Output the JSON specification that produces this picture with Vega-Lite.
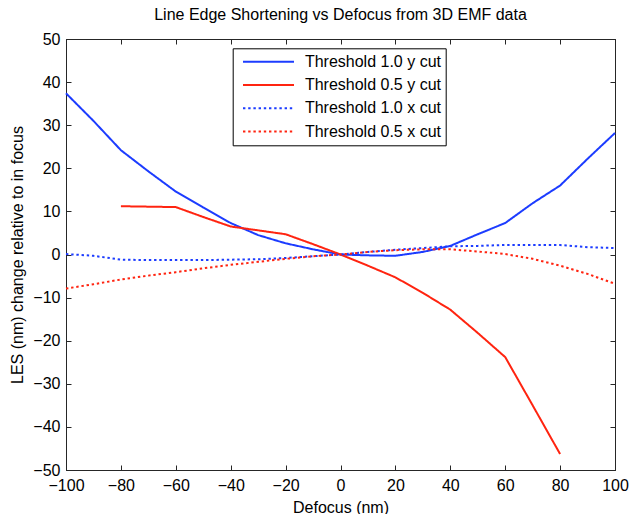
{
  "$schema": "https://vega.github.io/schema/vega-lite/v6.json",
  "width": 549,
  "height": 431,
  "autosize": {"type": "none"},
  "padding": {"left": 66, "top": 39, "right": 14, "bottom": 44},
  "background": "white",
  "config": {
    "font": "Liberation Sans",
    "view": {"stroke": "#262626", "strokeWidth": 1},
    "axis": {
      "grid": false,
      "domainColor": "#262626",
      "domainWidth": 1,
      "tickColor": "#262626",
      "tickSize": -5,
      "labelFontSize": 16,
      "labelColor": "black",
      "titleFontSize": 16,
      "titleFontWeight": "normal",
      "titleColor": "black"
    },
    "title": {"fontSize": 16, "fontWeight": "normal", "color": "black", "font": "Liberation Sans"}
  },
  "title": {"text": "Line Edge Shortening vs Defocus from 3D EMF data", "offset": 8},
  "datasets": {
    "lines": [
      {"x": -100, "y": 37.4, "s": "Threshold 1.0 y cut"},
      {"x": -90, "y": 31.0, "s": "Threshold 1.0 y cut"},
      {"x": -80, "y": 24.2, "s": "Threshold 1.0 y cut"},
      {"x": -70, "y": 19.3, "s": "Threshold 1.0 y cut"},
      {"x": -60, "y": 14.6, "s": "Threshold 1.0 y cut"},
      {"x": -50, "y": 10.9, "s": "Threshold 1.0 y cut"},
      {"x": -40, "y": 7.3, "s": "Threshold 1.0 y cut"},
      {"x": -30, "y": 4.5, "s": "Threshold 1.0 y cut"},
      {"x": -20, "y": 2.6, "s": "Threshold 1.0 y cut"},
      {"x": -10, "y": 1.2, "s": "Threshold 1.0 y cut"},
      {"x": 0, "y": 0, "s": "Threshold 1.0 y cut"},
      {"x": 10, "y": -0.2, "s": "Threshold 1.0 y cut"},
      {"x": 20, "y": -0.3, "s": "Threshold 1.0 y cut"},
      {"x": 30, "y": 0.6, "s": "Threshold 1.0 y cut"},
      {"x": 40, "y": 2.0, "s": "Threshold 1.0 y cut"},
      {"x": 50, "y": 4.7, "s": "Threshold 1.0 y cut"},
      {"x": 60, "y": 7.3, "s": "Threshold 1.0 y cut"},
      {"x": 70, "y": 11.9, "s": "Threshold 1.0 y cut"},
      {"x": 80, "y": 16.0, "s": "Threshold 1.0 y cut"},
      {"x": 90, "y": 22.2, "s": "Threshold 1.0 y cut"},
      {"x": 100, "y": 28.2, "s": "Threshold 1.0 y cut"},
      {"x": -80, "y": 11.2, "s": "Threshold 0.5 y cut"},
      {"x": -70, "y": 11.1, "s": "Threshold 0.5 y cut"},
      {"x": -60, "y": 11.0, "s": "Threshold 0.5 y cut"},
      {"x": -50, "y": 8.7, "s": "Threshold 0.5 y cut"},
      {"x": -40, "y": 6.5, "s": "Threshold 0.5 y cut"},
      {"x": -30, "y": 5.6, "s": "Threshold 0.5 y cut"},
      {"x": -20, "y": 4.7, "s": "Threshold 0.5 y cut"},
      {"x": -10, "y": 2.4, "s": "Threshold 0.5 y cut"},
      {"x": 0, "y": 0, "s": "Threshold 0.5 y cut"},
      {"x": 10, "y": -2.6, "s": "Threshold 0.5 y cut"},
      {"x": 20, "y": -5.3, "s": "Threshold 0.5 y cut"},
      {"x": 30, "y": -8.9, "s": "Threshold 0.5 y cut"},
      {"x": 40, "y": -12.8, "s": "Threshold 0.5 y cut"},
      {"x": 50, "y": -18.2, "s": "Threshold 0.5 y cut"},
      {"x": 60, "y": -23.8, "s": "Threshold 0.5 y cut"},
      {"x": 70, "y": -35.0, "s": "Threshold 0.5 y cut"},
      {"x": 80, "y": -46.3, "s": "Threshold 0.5 y cut"},
      {"x": -100, "y": 0.1, "s": "Threshold 1.0 x cut"},
      {"x": -90, "y": -0.3, "s": "Threshold 1.0 x cut"},
      {"x": -80, "y": -1.2, "s": "Threshold 1.0 x cut"},
      {"x": -70, "y": -1.3, "s": "Threshold 1.0 x cut"},
      {"x": -60, "y": -1.3, "s": "Threshold 1.0 x cut"},
      {"x": -50, "y": -1.3, "s": "Threshold 1.0 x cut"},
      {"x": -40, "y": -1.2, "s": "Threshold 1.0 x cut"},
      {"x": -30, "y": -1.1, "s": "Threshold 1.0 x cut"},
      {"x": -20, "y": -0.8, "s": "Threshold 1.0 x cut"},
      {"x": -10, "y": -0.4, "s": "Threshold 1.0 x cut"},
      {"x": 0, "y": 0, "s": "Threshold 1.0 x cut"},
      {"x": 10, "y": 0.6, "s": "Threshold 1.0 x cut"},
      {"x": 20, "y": 1.1, "s": "Threshold 1.0 x cut"},
      {"x": 30, "y": 1.5, "s": "Threshold 1.0 x cut"},
      {"x": 40, "y": 1.9, "s": "Threshold 1.0 x cut"},
      {"x": 50, "y": 2.0, "s": "Threshold 1.0 x cut"},
      {"x": 60, "y": 2.2, "s": "Threshold 1.0 x cut"},
      {"x": 70, "y": 2.2, "s": "Threshold 1.0 x cut"},
      {"x": 80, "y": 2.2, "s": "Threshold 1.0 x cut"},
      {"x": 90, "y": 1.7, "s": "Threshold 1.0 x cut"},
      {"x": 100, "y": 1.5, "s": "Threshold 1.0 x cut"},
      {"x": -100, "y": -7.9, "s": "Threshold 0.5 x cut"},
      {"x": -90, "y": -6.9, "s": "Threshold 0.5 x cut"},
      {"x": -80, "y": -5.8, "s": "Threshold 0.5 x cut"},
      {"x": -70, "y": -4.9, "s": "Threshold 0.5 x cut"},
      {"x": -60, "y": -4.1, "s": "Threshold 0.5 x cut"},
      {"x": -50, "y": -3.2, "s": "Threshold 0.5 x cut"},
      {"x": -40, "y": -2.4, "s": "Threshold 0.5 x cut"},
      {"x": -30, "y": -1.7, "s": "Threshold 0.5 x cut"},
      {"x": -20, "y": -1.0, "s": "Threshold 0.5 x cut"},
      {"x": -10, "y": -0.4, "s": "Threshold 0.5 x cut"},
      {"x": 0, "y": 0, "s": "Threshold 0.5 x cut"},
      {"x": 10, "y": 0.6, "s": "Threshold 0.5 x cut"},
      {"x": 20, "y": 1.0, "s": "Threshold 0.5 x cut"},
      {"x": 30, "y": 1.2, "s": "Threshold 0.5 x cut"},
      {"x": 40, "y": 1.2, "s": "Threshold 0.5 x cut"},
      {"x": 50, "y": 0.7, "s": "Threshold 0.5 x cut"},
      {"x": 60, "y": 0.1, "s": "Threshold 0.5 x cut"},
      {"x": 70, "y": -1.0, "s": "Threshold 0.5 x cut"},
      {"x": 80, "y": -2.6, "s": "Threshold 0.5 x cut"},
      {"x": 90, "y": -4.5, "s": "Threshold 0.5 x cut"},
      {"x": 100, "y": -6.8, "s": "Threshold 0.5 x cut"}
    ]
  },
  "data": {"name": "lines"},
  "resolve": {"scale": {"x": "independent", "y": "independent"}, "axis": {"x": "independent", "y": "independent"}},
  "layer": [
    {
      "mark": {"type": "line", "strokeWidth": 2},
      "encoding": {
        "x": {
          "field": "x", "type": "quantitative",
          "scale": {"domain": [-100, 100], "nice": false},
          "axis": {"orient": "bottom", "values": [-100, -80, -60, -40, -20, 0, 20, 40, 60, 80, 100], "labelPadding": 12, "title": "Defocus (nm)", "titlePadding": 6, "labelFlush": false}
        },
        "y": {
          "field": "y", "type": "quantitative",
          "scale": {"domain": [-50, 50], "nice": false},
          "axis": {"orient": "left", "values": [-50, -40, -30, -20, -10, 0, 10, 20, 30, 40, 50], "labelPadding": 11, "title": "LES (nm) change relative to in focus", "titlePadding": 7, "labelFlush": false}
        },
        "color": {
          "field": "s", "type": "nominal",
          "scale": {
            "domain": ["Threshold 1.0 y cut", "Threshold 0.5 y cut", "Threshold 1.0 x cut", "Threshold 0.5 x cut"],
            "range": ["#1c3cff", "#ff2410", "#1c3cff", "#ff2410"]
          },
          "legend": {
            "title": null,
            "orient": "none",
            "legendX": 166.7,
            "legendY": 9.3,
            "symbolType": "stroke",
            "symbolSize": 2601,
            "symbolStrokeWidth": 2,
            "clipHeight": 18,
            "rowPadding": 5.3,
            "padding": 4.4,
            "symbolOffset": 4.9,
            "labelOffset": 9.9,
            "labelFontSize": 16,
            "labelColor": "black",
            "labelLimit": 300,
            "strokeColor": "black",
            "fillColor": "white"
          }
        },
        "strokeDash": {
          "field": "s", "type": "nominal",
          "scale": {
            "domain": ["Threshold 1.0 y cut", "Threshold 0.5 y cut", "Threshold 1.0 x cut", "Threshold 0.5 x cut"],
            "range": [[1, 0], [1, 0], [2.4, 2.8], [2.4, 2.8]]
          },
          "legend": null
        },
        "order": {"field": "x", "type": "quantitative"}
      }
    },
    {
      "mark": {"type": "point", "opacity": 0},
      "encoding": {
        "x": {"field": "x", "type": "quantitative", "scale": {"domain": [-100, 100], "nice": false}, "axis": {"orient": "top", "values": [-100, -80, -60, -40, -20, 0, 20, 40, 60, 80, 100], "labels": false, "title": null, "domainWidth": 1}},
        "y": {"field": "y", "type": "quantitative", "scale": {"domain": [-50, 50], "nice": false}, "axis": {"orient": "right", "values": [-50, -40, -30, -20, -10, 0, 10, 20, 30, 40, 50], "labels": false, "title": null, "domainWidth": 1}}
      }
    }
  ]
}
